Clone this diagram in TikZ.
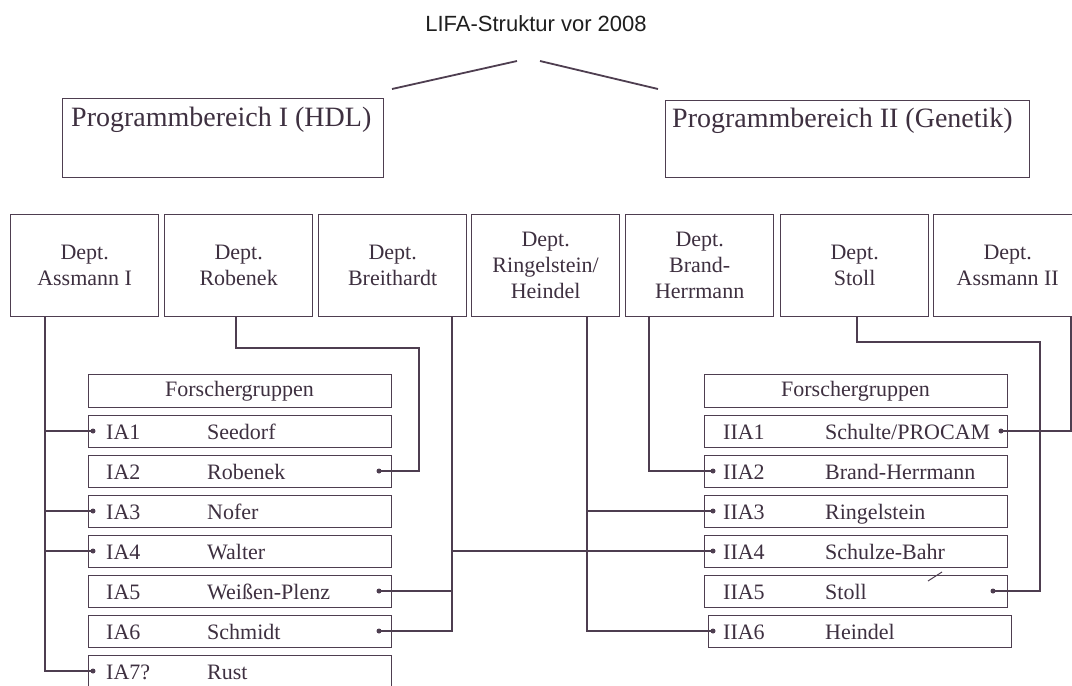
\documentclass[tikz,border=0pt]{standalone}
\usepackage{fontspec}
\setmainfont{Liberation Serif}
\newfontfamily\titlefont{Liberation Sans}
\definecolor{lc}{RGB}{78,62,80}
\definecolor{tc}{RGB}{62,48,64}
\begin{document}
\begin{tikzpicture}[x=1pt,y=-1pt,
  box/.style={draw=lc, line width=1.3pt, inner sep=0pt, anchor=north west},
  deptbox/.style={box, minimum width=148pt, minimum height=102pt, align=center, text=tc, font=\fontsize{22}{26}\selectfont},
  rowbox/.style={box, minimum width=303pt, minimum height=32pt},
  conn/.style={draw=lc, line width=1.8pt},
  dot/.style={circle, fill=lc, inner sep=0pt, minimum size=5pt},
  txt/.style={text=tc, inner sep=0pt, font=\fontsize{22}{26}\selectfont},
  big/.style={text=tc, inner sep=0pt, font=\fontsize{28}{32}\selectfont}]
\useasboundingbox (0,0) rectangle (1072,686);
\fill[white] (0,0) rectangle (1072,686);
\clip (0,0) rectangle (1072,686);

% title
\node[inner sep=0pt, anchor=base, text={rgb,255:red,30;green,30;blue,30}, font=\titlefont\fontsize{22}{26}\selectfont] (title) at (536,31) {LIFA-Struktur vor 2008};

% top lines
\coordinate (l1) at (392,89); \coordinate (l2) at (517,61);
\coordinate (r1) at (540,61); \coordinate (r2) at (658,89);
\draw[conn] (l1) -- (l2);
\draw[conn] (r1) -- (r2);

% Programmbereiche
\node[box, minimum width=321pt, minimum height=79pt] (pb1) at (62,98) {};
\node[big, anchor=base west] (pb1t) at (71,126) {Programmbereich I (HDL)};
\node[box, minimum width=364pt, minimum height=77pt] (pb2) at (665,100) {};
\node[big, anchor=base west] (pb2t) at (672,127) {Programmbereich II (Genetik)};

% Departments
\node[deptbox] (dA) at (10,214) {Dept.\\Assmann I};
\node[deptbox] (dR) at (164,214) {Dept.\\Robenek};
\node[deptbox] (dB) at (318,214) {Dept.\\Breithardt};
\node[deptbox] (dG) at (471,214) {Dept.\\Ringelstein/\\Heindel};
\node[deptbox] (dH) at (625,214) {Dept.\\Brand-\\Herrmann};
\node[deptbox] (dS) at (780,214) {Dept.\\Stoll};
\node[deptbox] (dT) at (933,214) {Dept.\\Assmann II};

% Forschergruppen headers
\node[box, minimum width=303pt, minimum height=33pt] (fgL) at (88,374) {};
\node[txt, anchor=base] at (239.5,396) {Forschergruppen};
\node[box, minimum width=303pt, minimum height=33pt] (fgR) at (704,374) {};
\node[txt, anchor=base] at (855.5,396) {Forschergruppen};

% left rows
\foreach \i/\a/\b in {1/IA1/Seedorf, 2/IA2/Robenek, 3/IA3/Nofer, 4/IA4/Walter, 5/IA5/Weißen-Plenz, 6/IA6/Schmidt, 7/IA7?/Rust} {
  \node[rowbox] (L\i) at (88,{375+40*\i}) {};
  \node[txt, anchor=base west] (La\i) at (106,{399+40*\i}) {\a};
  \node[txt, anchor=base west] (Lb\i) at (207,{399+40*\i}) {\b};
}
% right rows
\foreach \i/\a/\b/\x in {1/IIA1/Schulte\slash PROCAM/704, 2/IIA2/Brand-Herrmann/704, 3/IIA3/Ringelstein/704, 4/IIA4/Schulze-Bahr/704, 5/IIA5/Stoll/704, 6/IIA6/Heindel/708} {
  \node[rowbox] (R\i) at (\x,{375+40*\i}) {};
  \node[txt, anchor=base west] (Ra\i) at (723,{399+40*\i}) {\a};
  \node[txt, anchor=base west] (Rb\i) at (825,{399+40*\i}) {\b};
}

% dots
\node[dot] (a1) at (93,431) {};
\node[dot] (a3) at (93,511) {};
\node[dot] (a4) at (93,551) {};
\node[dot] (a7) at (93,671) {};
\node[dot] (a2) at (379,471) {};
\node[dot] (a5) at (379,591) {};
\node[dot] (a6) at (379,631) {};
\node[dot] (b1) at (1001,431) {};
\node[dot] (b2) at (713,471) {};
\node[dot] (b3) at (713,511) {};
\node[dot] (b4) at (713,551) {};
\node[dot] (b5) at (993,591) {};
\node[dot] (b6) at (713,631) {};

% connectors
\coordinate (tA) at ([xshift=35pt]dA.south west);
\draw[conn] (tA) |- (a7.center);
\foreach \d in {a1,a3,a4} \draw[conn] (tA |- \d.center) -- (\d.center);

\coordinate (tR) at ([xshift=72pt]dR.south west);
\coordinate (kR) at (419,348);
\draw[conn] (tR) |- (kR) |- (a2.center);

\coordinate (tB) at ([xshift=134pt]dB.south west);
\draw[conn] (tB) |- (a6.center);
\draw[conn] (tB |- a5.center) -- (a5.center);
\draw[conn] (tB |- b4.center) -- (b4.center);

\coordinate (tG) at ([xshift=116pt]dG.south west);
\draw[conn] (tG) |- (b6.center);
\draw[conn] (tG |- b3.center) -- (b3.center);

\coordinate (tH) at ([xshift=24pt]dH.south west);
\draw[conn] (tH) |- (b2.center);

\coordinate (tS) at ([xshift=77pt]dS.south west);
\coordinate (kS) at (1040,342);
\draw[conn] (tS) |- (kS) |- (b5.center);

\coordinate (tT) at ([xshift=138pt]dT.south west);
\draw[conn] (tT) |- (b1.center);

% small pen mark
\coordinate (m1) at (928,581); \coordinate (m2) at (942,572);
\draw[lc, line width=1pt] (m1) -- (m2);
\end{tikzpicture}
\end{document}
